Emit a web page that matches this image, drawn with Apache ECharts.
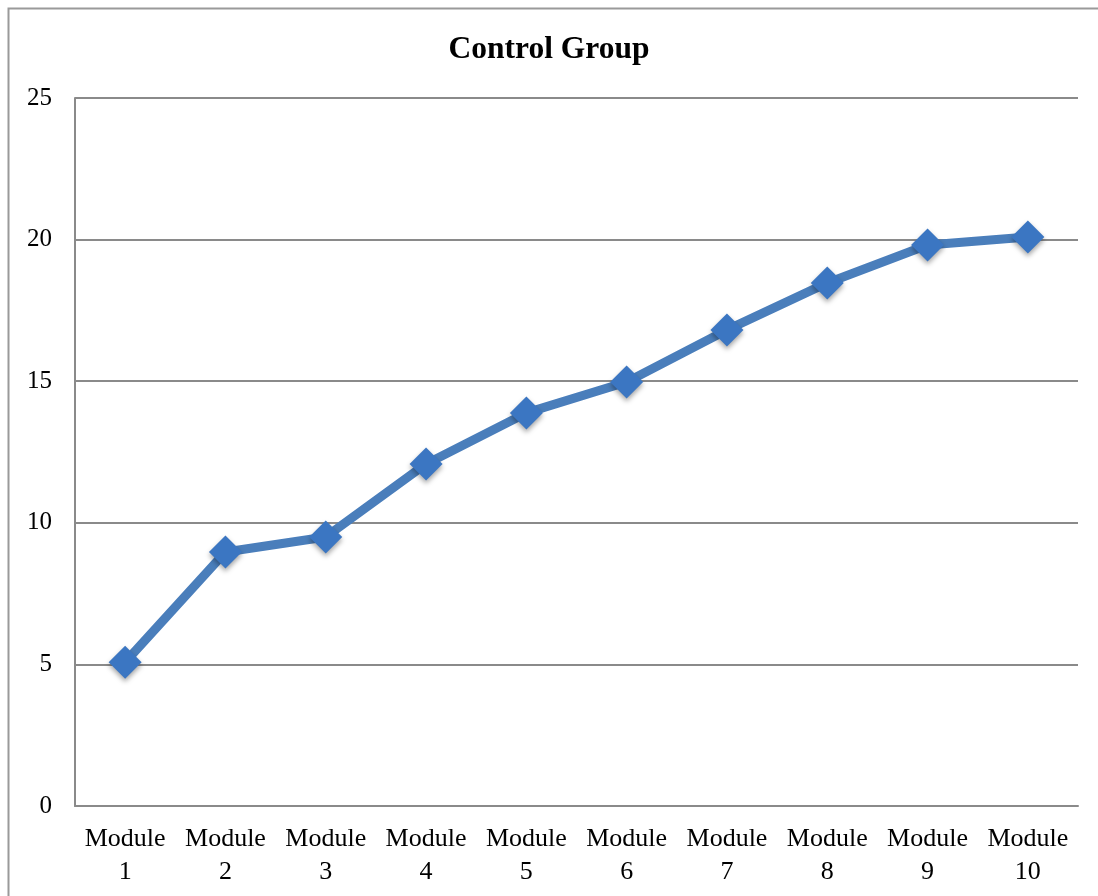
<!DOCTYPE html>
<html>
<head>
<meta charset="utf-8">
<script src="https://cdn.jsdelivr.net/npm/echarts@6/dist/echarts.min.js"></script>
<style>
  html, body { margin: 0; padding: 0; background: #ffffff; }
  #chart { width: 1098px; height: 896px; }
</style>
</head>
<body>
<div id="chart"></div>
<script>
// Scores per module for the control group
const categories = ['Module\n1', 'Module\n2', 'Module\n3', 'Module\n4', 'Module\n5',
                    'Module\n6', 'Module\n7', 'Module\n8', 'Module\n9', 'Module\n10'];
const scores = [5.08, 8.97, 9.5, 12.08, 13.88, 14.97, 16.81, 18.47, 19.81, 20.09];
const yTicks = [0, 5, 10, 15, 20, 25];

const font = 'Liberation Serif, Times New Roman, serif';
const chart = echarts.init(document.getElementById('chart'));

chart.setOption({
  backgroundColor: '#ffffff',
  animation: false,
  title: {
    text: 'Control Group',
    left: 'center',
    top: 29,
    textStyle: { fontFamily: font, fontSize: 31.5, fontWeight: 'bold', color: '#000000' }
  },
  graphic: [{
    type: 'rect',
    shape: { x: 8.5, y: 8.5, width: 1200, height: 1000 },
    style: { fill: 'none', stroke: '#9a9a9a', lineWidth: 2 },
    silent: true,
    z: -1
  }],
  grid: { left: 75, right: 20, top: 98, bottom: 90, containLabel: false },
  xAxis: {
    type: 'category',
    data: categories,
    boundaryGap: true,
    axisLine: { show: true, lineStyle: { color: '#8a8a8a', width: 2 } },
    axisTick: { show: false },
    axisLabel: {
      fontFamily: font, fontSize: 26, color: '#000000',
      lineHeight: 33, margin: 17, interval: 0
    },
    splitLine: { show: false }
  },
  yAxis: {
    type: 'value',
    min: yTicks[0],
    max: yTicks[yTicks.length - 1],
    interval: 5,
    axisLine: { show: true, lineStyle: { color: '#8a8a8a', width: 2 } },
    axisTick: { show: false },
    axisLabel: { fontFamily: font, fontSize: 25, color: '#000000', margin: 23 },
    splitLine: { show: true, lineStyle: { color: '#8a8a8a', width: 2 } }
  },
  series: [{
    type: 'line',
    data: scores,
    symbol: 'diamond',
    symbolSize: 33,
    lineStyle: { color: '#4a7ebb', width: 9 },
    itemStyle: {
      color: '#3b76c2',
      shadowColor: 'rgba(0,0,0,0.35)',
      shadowBlur: 5,
      shadowOffsetY: 3
    },
    z: 3
  }]
});
</script>
</body>
</html>
